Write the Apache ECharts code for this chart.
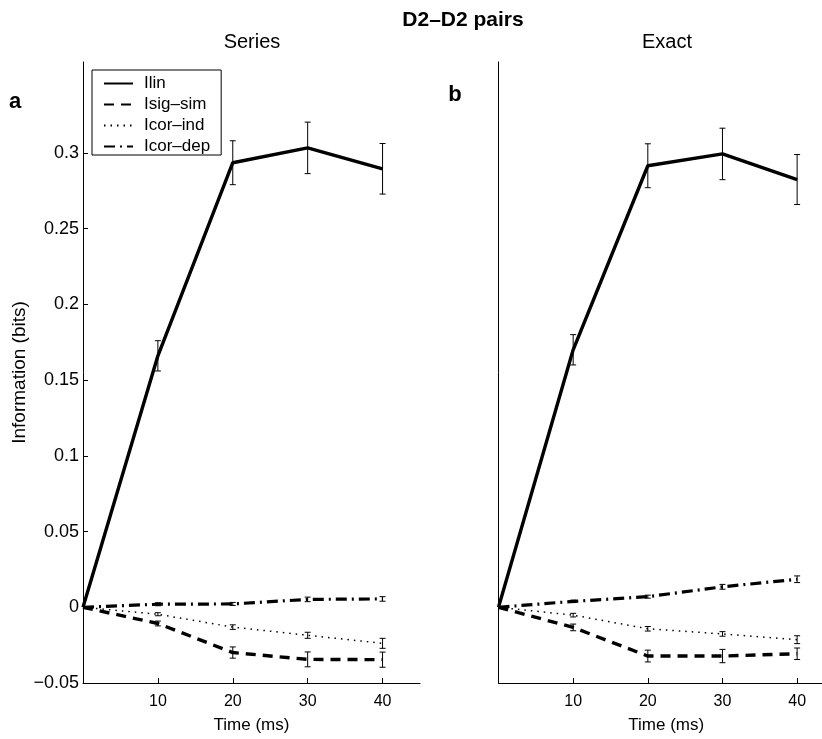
<!DOCTYPE html>
<html>
<head>
<meta charset="utf-8">
<script src="https://cdn.jsdelivr.net/npm/echarts@6/dist/echarts.min.js"></script>
<style>
html,body{margin:0;padding:0;background:#fff;}
#chart{width:822px;height:739px;}
</style>
</head>
<body>
<div id="chart"></div>
<script>
// ---- data ----
const timesMs = [0, 10, 20, 30, 40];
const legendNames = ['Ilin', 'Isig\u2013sim', 'Icor\u2013ind', 'Icor\u2013dep'];

// Panel a: "Series"
const seriesIlin      = [0, 0.166, 0.2935, 0.3033, 0.2895];
const seriesIlinErr   = [null, 0.010, 0.0145, 0.017, 0.0167];
const seriesIsig      = [0, -0.0107, -0.0299, -0.0344, -0.0346];
const seriesIsigErr   = [null, 0.0016, 0.0037, 0.0049, 0.005];
const seriesIcorInd   = [0, -0.0046, -0.0131, -0.0185, -0.0238];
const seriesIcorIndErr= [null, 0.001, 0.0015, 0.002, 0.0033];
const seriesIcorDep   = [0, 0.002, 0.0022, 0.0052, 0.0055];
const seriesIcorDepErr= [null, 0.001, 0.001, 0.0015, 0.0015];

// Panel b: "Exact"
const exactIlin      = [0, 0.17, 0.2915, 0.2993, 0.2824];
const exactIlinErr   = [null, 0.010, 0.0145, 0.017, 0.0165];
const exactIsig      = [0, -0.0133, -0.0322, -0.0322, -0.0307];
const exactIsigErr   = [null, 0.0022, 0.0039, 0.0044, 0.0038];
const exactIcorInd   = [0, -0.0052, -0.0142, -0.0176, -0.0214];
const exactIcorIndErr= [null, 0.0012, 0.0015, 0.0015, 0.0026];
const exactIcorDep   = [0, 0.0039, 0.007, 0.0135, 0.0185];
const exactIcorDepErr= [null, 0.0008, 0.001, 0.0016, 0.0022];

const xTickValues = [10, 20, 30, 40];
const yTickValues = [-0.05, 0, 0.05, 0.1, 0.15, 0.2, 0.25, 0.3];
const yTickLabels = ['\u22120.05', '0', '0.05', '0.1', '0.15', '0.2', '0.25', '0.3'];

// ---- helpers ----
const FONT = 'Liberation Sans, Arial, Helvetica, sans-serif';
function pairs(vals) { return timesMs.map((t, i) => [t, vals[i]]); }
function errData(vals, errs) {
  const out = [];
  timesMs.forEach((t, i) => { if (errs[i] != null) out.push([t, vals[i] - errs[i], vals[i] + errs[i]]); });
  return out;
}
function renderErr(params, api) {
  const x = api.value(0), lo = api.value(1), hi = api.value(2);
  const p1 = api.coord([x, hi]), p2 = api.coord([x, lo]);
  const w = 3;
  const st = { stroke: '#000', lineWidth: 1 };
  return { type: 'group', children: [
    { type: 'line', shape: { x1: p1[0], y1: p1[1], x2: p2[0], y2: p2[1] }, style: st },
    { type: 'line', shape: { x1: p1[0] - w, y1: p1[1], x2: p1[0] + w, y2: p1[1] }, style: st },
    { type: 'line', shape: { x1: p2[0] - w, y1: p2[1], x2: p2[0] + w, y2: p2[1] }, style: st }
  ]};
}
const styles = [
  { type: 'solid', width: 3.4 },
  { type: [10, 7], width: 3.4 },
  { type: [1.5, 5], width: 1.5 },
  { type: [11, 5, 2, 5], width: 3.2 }
];
function lineSeries(name, vals, gi, si) {
  return {
    type: 'line', name: name, xAxisIndex: gi, yAxisIndex: gi,
    data: pairs(vals), symbol: 'none', showSymbol: false, silent: true,
    animation: false, z: 3 + (si === 0 ? 1 : 0),
    lineStyle: { color: '#000', width: styles[si].width, type: styles[si].type, cap: 'butt' },
    itemStyle: { color: '#000' }
  };
}
function errSeries(vals, errs, gi) {
  return {
    type: 'custom', name: 'err', xAxisIndex: gi, yAxisIndex: gi,
    data: errData(vals, errs), renderItem: renderErr, silent: true, animation: false, z: 5,
    encode: { x: 0, y: [1, 2] }
  };
}

const panels = [
  [seriesIlin, seriesIsig, seriesIcorInd, seriesIcorDep],
  [exactIlin, exactIsig, exactIcorInd, exactIcorDep]
];
const panelErrs = [
  [seriesIlinErr, seriesIsigErr, seriesIcorIndErr, seriesIcorDepErr],
  [exactIlinErr, exactIsigErr, exactIcorIndErr, exactIcorDepErr]
];

const series = [];
panels.forEach((vals, gi) => {
  vals.forEach((v, si) => series.push(lineSeries(legendNames[si], v, gi, si)));
  vals.forEach((v, si) => series.push(errSeries(v, panelErrs[gi][si], gi)));
});

// panel b is cut by the right edge of the figure: its x range shown is 0..43.3
const xMax = [45, 43.33];
function xAxis(gi) {
  return {
    type: 'value', gridIndex: gi, min: 0, max: xMax[gi],
    name: 'Time (ms)', nameLocation: 'middle', nameGap: 34,
    nameTextStyle: { color: '#000', fontSize: 17, fontFamily: FONT, padding: gi === 1 ? [0, 0, 0, 12] : 0 },
    axisLine: { show: true, onZero: false, lineStyle: { color: '#000', width: 1 } },
    axisTick: { show: true, inside: true, length: 5, customValues: xTickValues, lineStyle: { color: '#000' } },
    axisLabel: { customValues: xTickValues, color: '#000', fontSize: 16, fontFamily: FONT, margin: 11 },
    splitLine: { show: false }
  };
}
function yAxis(gi) {
  const a = {
    type: 'value', gridIndex: gi, min: -0.05, max: 0.36,
    axisLine: { show: true, onZero: false, lineStyle: { color: '#000', width: 1 } },
    splitLine: { show: false }
  };
  if (gi === 0) {
    a.name = 'Information (bits)';
    a.nameLocation = 'middle';
    a.nameGap = 52;
    a.nameTextStyle = { color: '#000', fontSize: 19, fontFamily: FONT };
    a.axisTick = { show: true, inside: true, length: 5, customValues: yTickValues, lineStyle: { color: '#000' } };
    a.axisLabel = {
      customValues: yTickValues, color: '#000', fontSize: 18, fontFamily: FONT, margin: 4,
      formatter: function (v) {
        const i = yTickValues.findIndex(t => Math.abs(t - v) < 1e-9);
        return i >= 0 ? yTickLabels[i] : '';
      }
    };
  } else {
    a.axisTick = { show: false };
    a.axisLabel = { show: false };
  }
  return a;
}

const option = {
  backgroundColor: '#fff',
  animation: false,
  grid: [
    { left: 83, top: 62, width: 337, height: 626, containLabel: false },
    { left: 498.5, top: 62, width: 323.5, height: 626, containLabel: false }
  ],
  xAxis: [xAxis(0), xAxis(1)],
  yAxis: [yAxis(0), yAxis(1)],
  legend: {
    data: legendNames, orient: 'vertical', left: 92, top: 70,
    itemWidth: 29, itemHeight: 12, itemGap: 4,
    padding: [5, 11, 0, 11],
    borderColor: '#000', borderWidth: 1, backgroundColor: '#fff',
    selectedMode: false,
    itemStyle: { opacity: 0 },
    textStyle: { color: '#000', fontSize: 17, fontFamily: FONT, padding: [0, 0, 0, 6] }
  },
  graphic: [
    { type: 'text', x: 463, y: 20, style: { text: 'D2\u2013D2 pairs', font: 'bold 21px ' + FONT, fill: '#000', align: 'center', verticalAlign: 'middle' } },
    { type: 'text', x: 252, y: 42, style: { text: 'Series', font: '20px ' + FONT, fill: '#000', align: 'center', verticalAlign: 'middle' } },
    { type: 'text', x: 667, y: 42, style: { text: 'Exact', font: '20px ' + FONT, fill: '#000', align: 'center', verticalAlign: 'middle' } },
    { type: 'text', x: 15, y: 102, style: { text: 'a', font: 'bold 22px ' + FONT, fill: '#000', align: 'center', verticalAlign: 'middle' } },
    { type: 'text', x: 455, y: 95, style: { text: 'b', font: 'bold 22px ' + FONT, fill: '#000', align: 'center', verticalAlign: 'middle' } }
  ],
  series: series
};

const chart = echarts.init(document.getElementById('chart'), null, { renderer: 'canvas' });
chart.setOption(option);
</script>
</body>
</html>
